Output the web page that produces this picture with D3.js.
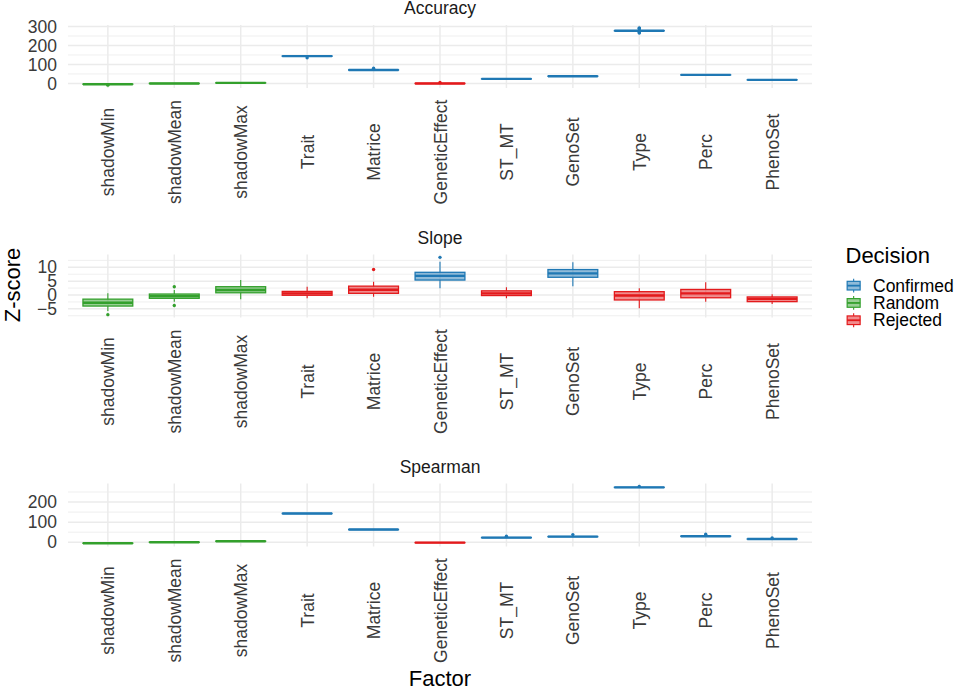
<!DOCTYPE html>
<html>
<head>
<meta charset="utf-8">
<script src="https://cdn.jsdelivr.net/npm/d3@7/dist/d3.min.js"></script>
<style>
  body { margin: 0; background: #fff; }
  text { font-family: "Liberation Sans", Arial, sans-serif; }
</style>
</head>
<body>
<script>

  var categories = ["shadowMin", "shadowMean", "shadowMax", "Trait", "Matrice", "GeneticEffect",
                    "ST_MT", "GenoSet", "Type", "Perc", "PhenoSet"];
  var decisions = ["Confirmed", "Random", "Rejected"];

  // [lower whisker, q1, median, q3, upper whisker] per factor
  var accuracyStats = [[-6, -4.5, -4, -3.5, -2], [-1.5, -0.5, 0, 0.5, 1.5], [1, 2.5, 3, 3.5, 5],
                       [140, 143, 144, 145, 147], [68, 70, 71, 72, 74], [-2, -0.5, 0, 0.5, 2],
                       [22, 23.5, 24, 24.5, 26], [36, 37.5, 38, 38.5, 40], [275, 277.5, 278, 278.5, 281],
                       [43, 44.5, 45, 45.5, 47], [17, 18.5, 19, 19.5, 21]];
  var accuracyOutliers = [[-9], [], [], [135], [80], [5], [], [], [293, 290, 287, 269, 266], [], []];
  var accuracyDecision = ["Random", "Random", "Random", "Confirmed", "Confirmed", "Rejected",
                          "Confirmed", "Confirmed", "Confirmed", "Confirmed", "Confirmed"];
  var accuracyTicks = [0, 100, 200, 300];

  var slopeStats = [[-5.8, -4.0, -2.8, -1.5, 0.6], [-2.4, -1.2, -0.4, 0.35, 1.8], [-1.5, 0.8, 1.8, 3.0, 5.4],
                    [-1.2, -0.1, 0.6, 1.3, 3.0], [-0.6, 0.6, 1.9, 3.2, 4.8], [2.4, 5.4, 6.9, 8.2, 12.0],
                    [-1.2, -0.2, 0.6, 1.5, 2.8], [3.2, 6.4, 7.8, 9.2, 11.8], [-4.8, -1.8, -0.2, 1.2, 2.4],
                    [-2.4, -1.0, 0.6, 2.0, 4.6], [-3.3, -2.4, -1.4, -0.7, 0.25]];
  var slopeOutliers = [[-7.1], [3.0, -3.8], [], [], [9.2], [13.6], [], [], [], [], []];
  var slopeDecision = ["Random", "Random", "Random", "Rejected", "Rejected", "Confirmed",
                       "Rejected", "Confirmed", "Rejected", "Rejected", "Rejected"];
  var slopeTicks = [-5, 0, 5, 10];

  var spearmanStats = [[-7, -5.5, -5, -4.5, -3], [-2, -0.5, 0, 0.5, 2], [3, 4.5, 5, 5.5, 7],
                       [141, 142.5, 143, 143.5, 145], [61, 62.5, 63, 63.5, 65], [-4, -2.5, -2, -1.5, 0],
                       [21, 22.5, 23, 23.5, 25], [26, 27.5, 28, 28.5, 30], [270, 272.5, 273, 273.5, 276],
                       [28, 29.5, 30, 30.5, 32], [14, 15.5, 16, 16.5, 18]];
  var spearmanOutliers = [[], [], [], [], [], [], [30], [38], [278], [40], [21]];
  var spearmanDecision = ["Random", "Random", "Random", "Confirmed", "Confirmed", "Rejected",
                          "Confirmed", "Confirmed", "Confirmed", "Confirmed", "Confirmed"];
  var spearmanTicks = [0, 100, 200];

  var width = 957, height = 690;
  var left = 68, right = 812, panelH = 63;

  var color = d3.scaleOrdinal().domain(decisions).range(["#1F78B4", "#33A02C", "#E31A1C"]);

  var svg = d3.select("body").append("svg")
    .attr("width", width)
    .attr("height", height);

  var x = d3.scalePoint().domain(categories).range([left, right]).padding(0.6);
  var boxW = x.step() * 0.75;

  var panels = [
    {title: "Accuracy", top: 25, stats: accuracyStats, outliers: accuracyOutliers, decision: accuracyDecision, ticks: accuracyTicks},
    {title: "Slope", top: 254.5, stats: slopeStats, outliers: slopeOutliers, decision: slopeDecision, ticks: slopeTicks},
    {title: "Spearman", top: 483.5, stats: spearmanStats, outliers: spearmanOutliers, decision: spearmanDecision, ticks: spearmanTicks}
  ];

  panels.forEach(function(p) {
    var all = [];
    p.stats.forEach(function(s, i) { all = all.concat(s, p.outliers[i]); });
    var ext = d3.extent(all), pad = (ext[1] - ext[0]) * 0.05;
    var y = d3.scaleLinear().domain([ext[0] - pad, ext[1] + pad]).range([p.top + panelH, p.top]);
    var g = svg.append("g");

    // minor grid: midpoints between breaks, plus one step beyond each end
    var step = p.ticks[1] - p.ticks[0];
    var minor = [p.ticks[0] - step / 2].concat(p.ticks.map(function(t) { return t + step / 2; }))
      .filter(function(v) { return v >= y.domain()[0] && v <= y.domain()[1]; });

    g.selectAll(".minor").data(minor).enter().append("line")
      .attr("x1", left).attr("x2", right)
      .attr("y1", function(d) { return y(d); }).attr("y2", function(d) { return y(d); })
      .attr("stroke", "#EBEBEB").attr("stroke-width", 0.8);
    g.selectAll(".major").data(p.ticks).enter().append("line")
      .attr("x1", left).attr("x2", right)
      .attr("y1", function(d) { return y(d); }).attr("y2", function(d) { return y(d); })
      .attr("stroke", "#EBEBEB").attr("stroke-width", 1.5);
    g.selectAll(".vgrid").data(categories).enter().append("line")
      .attr("x1", function(d) { return x(d); }).attr("x2", function(d) { return x(d); })
      .attr("y1", p.top).attr("y2", p.top + panelH)
      .attr("stroke", "#EBEBEB").attr("stroke-width", 1.5);

    // y axis
    var ya = g.append("g").attr("transform", "translate(" + left + ",0)")
      .call(d3.axisLeft(y).tickValues(p.ticks).tickSize(0).tickPadding(11));
    ya.select(".domain").remove();
    ya.selectAll("text").attr("font-size", "17.5px").attr("fill", "#3A3A3A")
      .style("font-family", "'Liberation Sans', Arial, sans-serif");

    // x axis, rotated labels centred under each panel
    var xa = g.append("g").attr("transform", "translate(0," + (p.top + panelH + 64) + ")")
      .call(d3.axisBottom(x).tickSize(0).tickPadding(0));
    xa.select(".domain").remove();
    xa.selectAll("text")
      .attr("y", 0).attr("dy", "0.35em")
      .attr("transform", "rotate(-90)")
      .attr("text-anchor", "middle")
      .attr("font-size", "17.5px").attr("fill", "#3A3A3A")
      .style("font-family", "'Liberation Sans', Arial, sans-serif");

    // strip title
    g.append("text").attr("x", (left + right) / 2).attr("y", p.top - 11)
      .attr("text-anchor", "middle").attr("font-size", "17.5px").attr("fill", "#1A1A1A")
      .text(p.title);

    // boxplots
    var boxes = g.selectAll(".box").data(p.stats).enter().append("g")
      .attr("transform", function(d, i) { return "translate(" + x(categories[i]) + ",0)"; });
    boxes.each(function(s, i) {
      var b = d3.select(this), c = color(p.decision[i]);
      b.append("line").attr("y1", y(s[0])).attr("y2", y(s[1]))
        .attr("stroke", c).attr("stroke-width", 1.1);
      b.append("line").attr("y1", y(s[3])).attr("y2", y(s[4]))
        .attr("stroke", c).attr("stroke-width", 1.1);
      b.append("rect").attr("x", -boxW / 2).attr("width", boxW)
        .attr("y", y(s[3])).attr("height", Math.max(0, y(s[1]) - y(s[3])))
        .attr("fill", c).attr("fill-opacity", 0.5)
        .attr("stroke", c).attr("stroke-width", 1.3);
      b.append("line").attr("x1", -boxW / 2).attr("x2", boxW / 2)
        .attr("y1", y(s[2])).attr("y2", y(s[2]))
        .attr("stroke", c).attr("stroke-width", 2.4);
      b.selectAll("circle").data(p.outliers[i]).enter().append("circle")
        .attr("cx", 0).attr("cy", function(d) { return y(d); }).attr("r", 1.7)
        .attr("fill", c);
    });
  });

  // axis titles
  svg.append("text").attr("transform", "translate(20,285) rotate(-90)")
    .attr("text-anchor", "middle").attr("font-size", "22px").attr("fill", "#000")
    .text("Z-score");
  svg.append("text").attr("x", (left + right) / 2).attr("y", 686)
    .attr("text-anchor", "middle").attr("font-size", "22px").attr("fill", "#000")
    .text("Factor");

  // legend
  var legend = svg.append("g");
  legend.append("text").attr("x", 845.5).attr("y", 263)
    .attr("font-size", "22px").attr("fill", "#000").text("Decision");
  var key = 17.3, kx = 845, ky0 = 277;
  var keys = legend.selectAll(".key").data(decisions).enter().append("g")
    .attr("transform", function(d, i) { return "translate(" + kx + "," + (ky0 + i * key) + ")"; });
  keys.each(function(d) {
    var k = d3.select(this), c = color(d);
    k.append("line").attr("x1", key / 2).attr("x2", key / 2).attr("y1", key * 0.1).attr("y2", key * 0.9)
      .attr("stroke", c).attr("stroke-width", 1.1);
    k.append("rect").attr("x", key * 0.125).attr("width", key * 0.75)
      .attr("y", key * 0.25).attr("height", key * 0.5)
      .attr("fill", "#fff").attr("stroke", "none");
    k.append("rect").attr("x", key * 0.125).attr("width", key * 0.75)
      .attr("y", key * 0.25).attr("height", key * 0.5)
      .attr("fill", c).attr("fill-opacity", 0.5).attr("stroke", c).attr("stroke-width", 1.2);
    k.append("line").attr("x1", key * 0.125).attr("x2", key * 0.875).attr("y1", key / 2).attr("y2", key / 2)
      .attr("stroke", c).attr("stroke-width", 1.8);
    k.append("text").attr("x", 28).attr("y", key / 2).attr("dy", "0.35em")
      .attr("font-size", "17.5px").attr("fill", "#000").text(d);
  });

</script>
</body>
</html>
